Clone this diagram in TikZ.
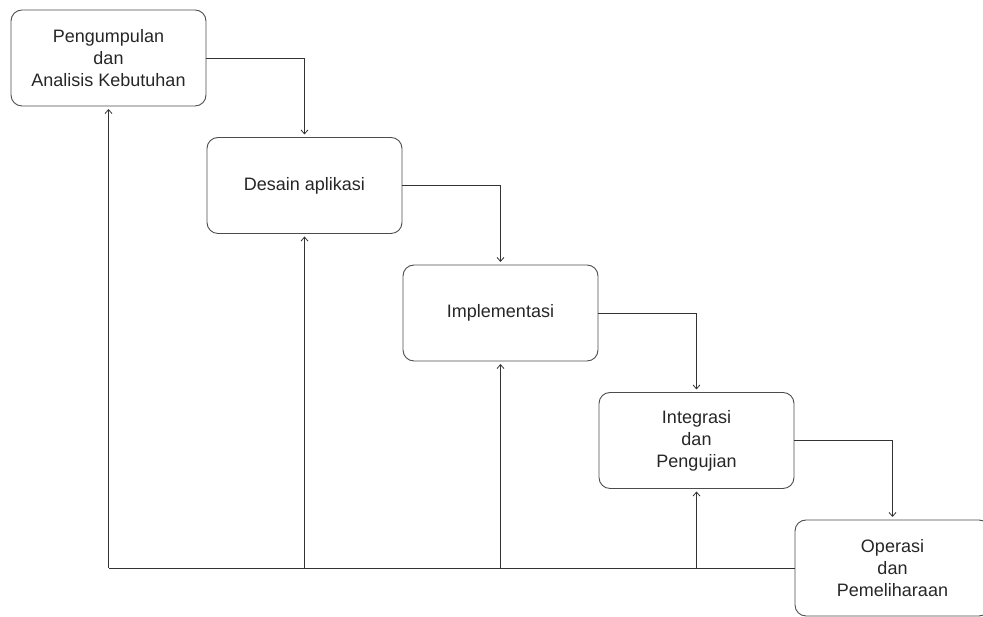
\documentclass[tikz,border=0pt]{standalone}
\usepackage{fontspec}
\setmainfont{Liberation Sans}
\usetikzlibrary{positioning,arrows.meta}

\tikzset{
  stage/.style={draw=black!70, line width=.9pt, rounded corners=11pt,
    minimum width=195pt, minimum height=96pt, align=center, outer sep=0pt,
    font=\fontsize{18}{22}\selectfont, text=black!85},
  flow/.style={draw=black!80, line width=.8pt, shorten >=3pt,
    -{Straight Barb[length=4pt,width=7pt]}},
  back/.style={draw=black!80, line width=.8pt}
}

\begin{document}
\begin{tikzpicture}[x=1pt,y=1pt]
\useasboundingbox (0,0) rectangle (983,617);

\node[stage] (kebutuhan) at (108.5,559) {Pengumpulan\\dan\\Analisis Kebutuhan};
\node[stage, below right=31.5pt and 1pt of kebutuhan] (desain) {Desain aplikasi};
\node[stage, below right=31.5pt and 1pt of desain] (implementasi) {Implementasi};
\node[stage, below right=31.5pt and 1pt of implementasi] (integrasi) {Integrasi\\dan\\Pengujian};
\node[stage, below right=31.5pt and 1pt of integrasi] (operasi) {Operasi\\dan\\Pemeliharaan};

% alur utama
\draw[flow] (kebutuhan.east) -| (desain.north);
\draw[flow] (desain.east) -| (implementasi.north);
\draw[flow] (implementasi.east) -| (integrasi.north);
\draw[flow] (integrasi.east) -| (operasi.north);

% umpan balik
\coordinate (balik) at (kebutuhan.south |- operasi.west);
\draw[back] (operasi.west) -- (balik);
\draw[flow] (balik) -- (kebutuhan.south);
\draw[flow] (desain.south |- balik) -- (desain.south);
\draw[flow] (implementasi.south |- balik) -- (implementasi.south);
\draw[flow] (integrasi.south |- balik) -- (integrasi.south);
\end{tikzpicture}
\end{document}
